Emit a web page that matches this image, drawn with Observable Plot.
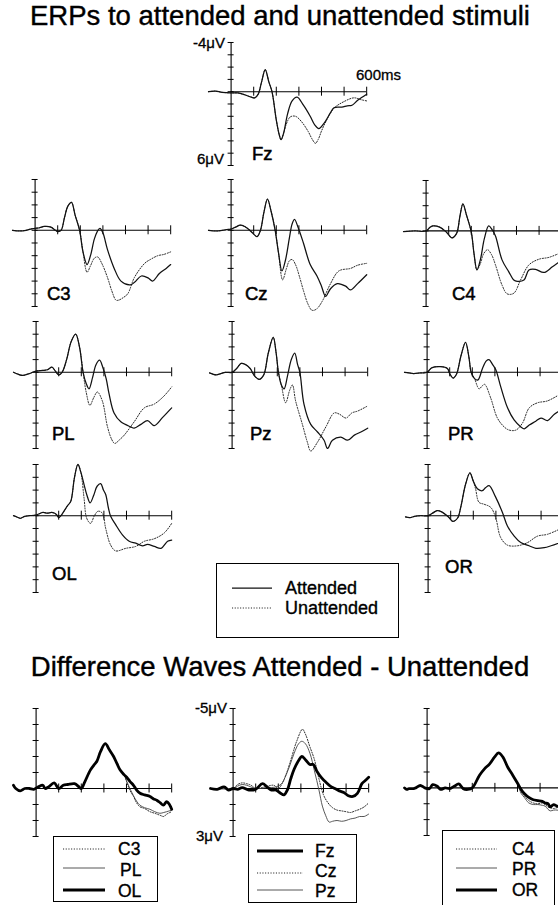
<!DOCTYPE html>
<html><head><meta charset="utf-8">
<script src="https://cdn.jsdelivr.net/npm/d3@7"></script>
<script src="https://cdn.jsdelivr.net/npm/@observablehq/plot@0.6"></script>
<style>
body{margin:0;background:#fff;}
#root{position:relative;width:558px;height:905px;overflow:hidden;background:#fff;}
.pnl{position:absolute;}
</style></head><body><div id="root"></div>
<script>
// ---------- ticks ----------
const timeTicks = [100, 200, 300, 400, 500, 600];
const erpTicks = [-4, -3, -2, -1, 0, 1, 2, 3, 4, 5, 6];
const diffTicks = [-5, -4, -3, -2, -1, 0, 1, 2, 3];

// ---------- ERP data [ms, μV] (negative up) ----------
const fzEarly = [[-100,0],[-70,-0.05],[-40,0.05],[0,0.1],[30,0.1],[60,0.25],[90,0.45],[105,0.5],[120,0.2],[135,-0.8],[151,-1.8],[167,-0.8],[181,0],[200,2.3],[213,3.5],[221,3.9],[232,3.4]];
const fzAtt = [[250,1.8],[270,0.75],[292,0.45],[320,1.1],[350,2.0],[370,2.7],[388,3.0],[410,2.6],[440,1.7],[455,1.3],[490,1.25],[514,1.15],[535,1.1],[560,0.7],[600,0.2]];
const fzUna = [[245,2.6],[262,2.05],[285,2.0],[310,2.4],[340,3.2],[360,3.9],[373,4.2],[385,3.9],[400,3.2],[420,2.4],[455,1.35],[500,0.8],[544,0.5],[575,0.65],[600,0.75]];

const c3Early = [[-100,0],[-70,0.05],[-40,0],[-20,-0.1],[0,-0.15],[20,-0.2],[40,-0.3],[70,-0.25],[90,0],[100,0.1],[115,0],[130,-1.0],[145,-1.9],[161,-2.2],[177,-1.2],[197,0],[212,1.7]];
const c3Att = [[230,2.7],[245,2.0],[262,0.7],[275,0.1],[287,-0.15],[300,0.2],[320,1.5],[350,3.0],[380,4.0],[420,4.3],[440,4.1],[470,3.6],[500,3.75],[520,4.0],[550,3.4],[580,3.0],[600,2.7]];
const c3Una = [[230,3.3],[245,2.8],[262,2.2],[277,2.1],[295,2.6],[320,3.7],[340,4.8],[358,5.5],[370,5.5],[390,5.3],[410,5.0],[440,3.7],[485,2.6],[510,2.3],[543,2.0],[570,1.9],[600,1.7]];

const czEarly = [[-100,0],[-60,0.05],[-20,-0.05],[0,-0.1],[20,-0.25],[40,-0.4],[60,-0.3],[80,-0.05],[100,0.3],[115,0.5],[130,0],[145,-1.4],[161,-2.45],[177,-1.5],[195,0],[210,1.8]];
const czAtt = [[225,3.2],[240,2.4],[258,0.6],[270,-0.5],[281,-0.85],[295,-0.3],[320,1.0],[350,2.7],[380,3.6],[400,4.4],[418,5.2],[440,4.6],[470,4.2],[507,4.4],[528,4.7],[560,4.2],[600,3.5]];
const czUna = [[228,3.9],[245,3.0],[258,2.4],[270,2.3],[285,2.7],[305,3.8],[321,4.8],[340,5.8],[358,6.3],[378,6.2],[403,5.6],[440,4.2],[477,3.2],[529,3.0],[560,2.75],[600,2.6]];

const c4Early = [[-100,0.05],[-50,0],[0,0],[15,-0.25],[30,-0.4],[60,-0.3],[90,0.1],[115,0.55],[135,0.2],[150,-1.2],[163,-2.15],[178,-1.3],[200,0.1],[212,1.8],[225,3.1]];
const c4Att = [[240,2.3],[258,0.6],[277,-0.4],[292,-0.1],[307,0.4],[336,2.3],[366,3.25],[388,3.9],[403,4.0],[433,3.9],[455,3.1],[484,3.05],[521,3.3],[559,2.85],[600,2.3]];
const c4Una = [[240,2.6],[255,1.8],[272,1.5],[290,1.9],[307,2.7],[336,4.3],[359,5.0],[388,4.95],[418,3.9],[455,2.7],[499,2.25],[544,2.1],[600,1.7]];

const plEarly = [[-100,0],[-80,0.15],[-60,0.25],[-30,0.1],[0,-0.1],[30,-0.15],[50,-0.2],[70,-0.4],[85,-0.1],[100,0.2],[115,0],[135,-1.0],[155,-2.4],[175,-3.0],[192,-2.0],[208,0]];
const plAtt = [[222,0.9],[234,1.3],[250,0.4],[265,-0.6],[281,-0.95],[295,-0.4],[310,0.5],[323,1.7],[345,3.2],[375,3.9],[419,4.3],[434,4.4],[464,4.1],[493,3.8],[523,4.2],[560,3.55],[600,2.8]];
const plUna = [[222,1.6],[238,2.6],[255,2.0],[271,1.55],[293,2.25],[316,4.3],[335,5.3],[348,5.6],[370,5.3],[390,4.95],[434,3.9],[479,2.8],[523,2.5],[567,1.85],[600,1.15]];

const pzEarly = [[-100,0.05],[-85,0.15],[-70,0.2],[-50,0.1],[-30,0],[0,0],[20,-0.3],[40,-0.7],[60,-0.6],[80,-0.3],[100,0.3],[120,0.55],[140,0.2],[160,-1.5],[182,-2.75],[195,-1.5],[205,0],[218,1.0]];
const pzAtt = [[230,1.3],[245,0.3],[262,-1.0],[277,-1.5],[290,-0.6],[300,0],[318,2.5],[348,4.1],[378,4.7],[407,5.35],[422,6.0],[444,5.35],[481,5.1],[511,5.35],[541,4.95],[570,4.7],[600,4.4]];
const pzUna = [[237,2.4],[255,1.4],[267,1.0],[281,2.25],[311,4.1],[333,5.5],[348,6.2],[378,5.5],[415,4.3],[452,3.2],[475,3.3],[504,3.6],[530,3.2],[556,3.05],[600,2.65]];

const prEarly = [[-100,0],[-80,0.05],[-60,0.1],[-30,0.05],[0,0],[20,-0.35],[60,-0.45],[90,-0.3],[100,0.1],[115,0.45],[130,0.15],[150,-1.3],[170,-2.35],[185,-1.2],[195,0],[210,0.5]];
const prAtt = [[225,0.6],[245,-0.3],[262,-0.9],[274,-1.0],[290,-0.6],[304,-0.2],[326,1.15],[356,2.8],[385,3.75],[415,4.3],[430,4.45],[452,4.15],[481,3.85],[504,3.6],[533,3.8],[563,3.3],[600,2.9]];
const prUna = [[230,1.3],[245,1.05],[255,0.95],[281,2.0],[311,3.6],[341,4.3],[363,4.55],[393,4.55],[422,4.0],[452,2.8],[489,2.4],[533,2.25],[600,1.6]];

const olEarly = [[-100,0],[-85,0.1],[-70,0.2],[-50,0.05],[-30,0],[0,-0.05],[30,-0.25],[50,-0.2],[70,-0.25],[90,-0.1],[100,0.15],[110,0],[125,-0.4],[140,-0.8],[153,-1.1],[170,-3.0],[185,-4.0],[198,-3.4]];
const olAtt = [[212,-2.45],[225,-1.6],[239,-1.0],[255,-1.6],[270,-2.3],[286,-2.5],[298,-2.0],[308,-1.65],[320,-0.6],[330,0.05],[352,0.7],[382,1.5],[412,2.0],[441,2.15],[471,2.35],[493,2.25],[523,2.4],[553,2.55],[582,2.0],[600,1.9]];
const olUna = [[212,-1.4],[224,0.2],[241,0.6],[258,0],[274,-0.35],[293,-0.2],[308,1.0],[330,2.3],[352,2.75],[397,2.55],[441,2.4],[479,2.0],[523,1.8],[567,1.35],[600,0.6]];

const orEarly = [[-100,0.1],[-80,0.15],[-60,0.05],[-30,0],[0,0],[20,-0.2],[40,-0.4],[60,-0.3],[90,0.1],[110,0.45],[130,0.2],[145,-0.7],[165,-2.4],[185,-3.35],[200,-2.7]];
const orAtt = [[218,-2.1],[240,-1.95],[255,-2.2],[270,-2.35],[299,-1.45],[329,-0.25],[351,0.8],[381,1.6],[410,2.1],[447,2.35],[477,2.55],[514,2.5],[544,2.35],[600,2.0]];
const orUna = [[210,-2.1],[225,-1.05],[247,-0.9],[277,-0.65],[299,0.15],[321,1.7],[351,2.3],[396,2.35],[440,2.1],[484,1.6],[529,1.45],[600,0.9]];

// ---------- Difference waves [ms, μV] ----------
const dLeftEarly = [[-100,-0.2],[-90,0],[-70,0.15],[-50,0],[-30,0],[-10,0.05],[10,-0.1],[30,-0.2],[40,0],[55,-0.1],[80,-0.35],[100,0],[120,-0.2],[140,-0.25],[170,-0.3],[190,-0.1],[200,0],[215,-0.4],[240,-1.15],[255,-1.45],[269,-1.7],[285,-2.3],[306,-2.8],[325,-2.4],[343,-2.0],[358,-1.55],[372,-1.15],[390,-0.85]];
const dC3 = [[401,-0.4],[415,0.1],[431,0.5],[445,0.9],[460,1.15],[480,1.25],[504,1.45],[525,1.55],[548,1.67],[565,1.75],[578,1.6],[600,1.45]];
const dPL = [[401,-0.45],[415,0.0],[431,0.45],[445,0.8],[460,1.05],[480,1.2],[504,1.3],[525,1.45],[548,1.55],[565,1.5],[578,1.45],[600,1.35]];
const dOL = [[401,-0.7],[415,-0.45],[431,-0.2],[445,0.1],[460,0.3],[480,0.4],[504,0.5],[520,0.65],[534,0.73],[550,0.9],[563,1.04],[578,0.83],[590,1.0],[600,1.3]];

const dFz = [[-100,0],[-70,0.05],[-40,-0.1],[-20,0.1],[0,0],[20,0.05],[40,-0.05],[70,0.1],[100,0.05],[130,-0.3],[150,-0.1],[170,0.1],[190,0.1],[210,0.3],[225,0.4],[240,0.1],[255,-0.6],[270,-1.2],[290,-1.75],[304,-2.0],[320,-1.8],[340,-1.5],[355,-1.5],[370,-1.1],[390,-0.7],[410,-0.4],[430,-0.15],[450,0],[470,0.15],[490,0.25],[510,0.45],[530,0.5],[550,0.3],[570,-0.3],[585,-0.5],[600,-0.7]];
const dCz = [[-100,0],[-50,0],[0,0],[20,-0.25],[40,-0.35],[60,-0.3],[80,-0.2],[100,0],[140,-0.1],[180,-0.2],[200,0],[220,-0.4],[240,-1.1],[260,-2.0],[280,-2.9],[307,-3.7],[320,-3.4],[340,-2.6],[360,-1.8],[380,-0.6],[400,0.4],[420,0.9],[440,1.2],[460,1.35],[480,1.4],[500,1.45],[520,1.5],[540,1.4],[560,1.3],[580,1.15],[600,0.9]];
const dPz = [[-100,0],[0,0],[20,-0.15],[40,-0.25],[60,-0.2],[100,0],[150,-0.05],[190,-0.1],[215,-0.3],[230,-0.7],[250,-1.4],[270,-2.2],[290,-2.8],[304,-2.95],[320,-2.8],[340,-2.2],[360,-1.1],[380,0.1],[395,1.1],[410,1.7],[425,2.1],[440,2.05],[460,2.0],[480,2.05],[500,2.0],[520,1.9],[540,1.85],[560,1.75],[580,1.75],[600,1.6]];

const dRightEarly = [[-100,0],[-90,0.1],[-80,0.05],[-60,0.05],[-50,0],[-30,-0.15],[-10,0],[10,0.05],[25,-0.2],[45,-0.1],[60,0.1],[80,0],[100,0.05],[120,-0.1],[140,-0.25],[160,0.05],[180,0.1],[200,0],[232,-0.8],[254,-1.2],[276,-1.5],[299,-1.95],[316,-2.2],[335,-1.95],[357,-1.3],[379,-0.8],[401,-0.27]];
const dC4 = [[416,0.25],[430,0.5],[450,0.8],[470,0.95],[490,1.0],[510,0.95],[522,1.05],[535,1.2],[545,1.25],[560,1.3],[575,1.25],[590,1.3]];
const dPR = [[416,0.35],[430,0.6],[450,0.95],[470,1.05],[490,1.05],[510,1.1],[522,1.15],[535,1.35],[545,1.45],[560,1.4],[575,1.4],[590,1.45]];
const dOR = [[416,0.1],[430,0.35],[450,0.6],[470,0.75],[490,0.8],[510,0.85],[522,0.95],[535,1.0],[545,1.2],[560,1.05],[575,1.15],[590,1.2]];

// ---------- drawing ----------
const FONT = "'Liberation Sans', Arial, Helvetica, sans-serif";
const MS = 0.226;   // px per ms
const M = 10;       // svg margin
const root = document.getElementById("root");
const rows = pairs => pairs.map(([t, v]) => ({t, v}));

const SOLID = {stroke: "#111", strokeWidth: 1.25};
const DOT = {stroke: "#222", strokeWidth: 1, strokeDasharray: "1.1,1.6"};
const THIN = {stroke: "#444", strokeWidth: 0.9};
const THICK = {stroke: "#000", strokeWidth: 2.8};

function panel({ax, top, bottom, domain, ticks, lines}) {
  const w = 700 * MS + 2 * M;
  const h = bottom - top + 2 * M;
  const marks = [
    Plot.ruleX([0], {x: d => d, y1: () => domain[0], y2: () => domain[1], stroke: "#000", strokeWidth: 1.1}),
    Plot.ruleY(ticks, {y: d => d, x1: () => 0, x2: () => 0, insetLeft: -3, insetRight: -3, stroke: "#000", strokeWidth: 1}),
    Plot.ruleY([0], {y: d => d, x1: () => 0, x2: () => 600, stroke: "#000", strokeWidth: 1.1}),
    Plot.ruleX(timeTicks, {x: d => d, y1: () => 0, y2: () => 0, insetTop: -4.5, insetBottom: -4.5, stroke: "#000", strokeWidth: 1}),
    ...lines.map(l => Plot.line(rows(l.data), {x: "t", y: "v", curve: "catmull-rom", ...l.style}))
  ];
  const svg = Plot.plot({
    width: w, height: h,
    marginLeft: M, marginRight: M, marginTop: M, marginBottom: M,
    x: {domain: [-100, 600], axis: null},
    y: {domain, reverse: true, axis: null},
    style: "background:transparent;overflow:visible;max-width:none;",
    marks
  });
  const div = document.createElement("div");
  div.className = "pnl";
  div.style.left = (ax - 100 * MS - M) + "px";
  div.style.top = (top - M) + "px";
  div.style.width = w + "px";
  div.appendChild(svg);
  root.appendChild(div);
}

const erp = (early, att, una) => [
  {data: early.concat(una), style: DOT},
  {data: early.concat(att), style: SOLID}
];
const E = [-4, 6];
panel({ax: 231, top: 42, bottom: 165, domain: E, ticks: erpTicks, lines: erp(fzEarly, fzAtt, fzUna)});
panel({ax: 34.5, top: 179, bottom: 306, domain: E, ticks: erpTicks, lines: erp(c3Early, c3Att, c3Una)});
panel({ax: 231, top: 179, bottom: 306, domain: E, ticks: erpTicks, lines: erp(czEarly, czAtt, czUna)});
panel({ax: 426, top: 180, bottom: 306, domain: E, ticks: erpTicks, lines: erp(c4Early, c4Att, c4Una)});
panel({ax: 36, top: 321, bottom: 448, domain: E, ticks: erpTicks, lines: erp(plEarly, plAtt, plUna)});
panel({ax: 232, top: 321, bottom: 448, domain: E, ticks: erpTicks, lines: erp(pzEarly, pzAtt, pzUna)});
panel({ax: 427, top: 321, bottom: 448, domain: E, ticks: erpTicks, lines: erp(prEarly, prAtt, prUna)});
panel({ax: 36, top: 464, bottom: 592, domain: E, ticks: erpTicks, lines: erp(olEarly, olAtt, olUna)});
panel({ax: 428, top: 464, bottom: 592, domain: E, ticks: erpTicks, lines: erp(orEarly, orAtt, orUna)});

const D = [-5, 3];
panel({ax: 36, top: 708, bottom: 836, domain: D, ticks: diffTicks, lines: [
  {data: dLeftEarly.concat(dC3), style: DOT},
  {data: dLeftEarly.concat(dPL), style: THIN},
  {data: dLeftEarly.concat(dOL), style: THICK}
]});
panel({ax: 233, top: 708, bottom: 836, domain: D, ticks: diffTicks, lines: [
  {data: dCz, style: DOT},
  {data: dPz, style: THIN},
  {data: dFz, style: THICK}
]});
panel({ax: 427, top: 708, bottom: 835, domain: D, ticks: diffTicks, lines: [
  {data: dRightEarly.concat(dC4), style: DOT},
  {data: dRightEarly.concat(dPR), style: THIN},
  {data: dRightEarly.concat(dOR), style: THICK}
]});

// ---------- overlay: titles, labels, legends ----------
const ov = d3.select(root).append("svg")
  .attr("width", 558).attr("height", 905)
  .style("position", "absolute").style("left", 0).style("top", 0)
  .attr("font-family", FONT);

function txt(x, y, s, size, anchor = "start", heavy = 0.35) {
  ov.append("text").attr("x", x).attr("y", y).attr("font-size", size)
    .attr("text-anchor", anchor).attr("fill", "#000")
    .attr("stroke", "#000").attr("stroke-width", heavy)
    .text(s);
}
txt(280, 25, "ERPs to attended and unattended stimuli", 27.5, "middle", 0.4);
txt(280, 676, "Difference Waves Attended - Unattended", 27.5, "middle", 0.4);

txt(225, 48, "-4μV", 15, "end", 0.3);
txt(224, 164, "6μV", 15, "end", 0.3);
txt(356, 80, "600ms", 15, "start", 0.3);
txt(227, 713, "-5μV", 15, "end", 0.3);
txt(223, 841, "3μV", 15, "end", 0.3);

const chanLabels = [
  ["Fz", 252, 160], ["C3", 47, 300], ["Cz", 245, 300], ["C4", 452, 300],
  ["PL", 52, 440], ["Pz", 250, 440], ["PR", 448, 440], ["OL", 52, 580], ["OR", 445, 573]
];
chanLabels.forEach(([s, x, y]) => txt(x, y, s, 18.5, "start", 0.5));

function legend(box, entries, size) {
  ov.append("rect").attr("x", box[0] + 0.5).attr("y", box[1] + 0.5)
    .attr("width", box[2]).attr("height", box[3])
    .attr("fill", "none").attr("stroke", "#000").attr("stroke-width", 1);
  entries.forEach(e => {
    ov.append("line").attr("x1", e.x1).attr("x2", e.x2).attr("y1", e.ly).attr("y2", e.ly)
      .attr("stroke", e.style.stroke).attr("stroke-width", e.style.strokeWidth)
      .attr("stroke-dasharray", e.style.strokeDasharray || null);
    txt(e.tx, e.ty, e.label, size, "start", 0.35);
  });
}
legend([216, 563, 182, 74], [
  {label: "Attended", style: SOLID, x1: 232, x2: 272, ly: 588, tx: 285, ty: 594},
  {label: "Unattended", style: DOT, x1: 232, x2: 272, ly: 608, tx: 285, ty: 614}
], 18);
legend([53, 836, 104, 65], [
  {label: "C3", style: DOT, x1: 63, x2: 105, ly: 849, tx: 118, ty: 855},
  {label: "PL", style: THIN, x1: 63, x2: 105, ly: 868, tx: 120, ty: 876},
  {label: "OL", style: THICK, x1: 63, x2: 105, ly: 890, tx: 118, ty: 897}
], 17.5);
legend([248, 834, 108, 68], [
  {label: "Fz", style: THICK, x1: 257, x2: 303, ly: 851, tx: 315, ty: 857},
  {label: "Cz", style: DOT, x1: 257, x2: 303, ly: 873, tx: 315, ty: 877},
  {label: "Pz", style: THIN, x1: 257, x2: 303, ly: 890, tx: 315, ty: 897}
], 17.5);
legend([442, 830, 112, 80], [
  {label: "C4", style: DOT, x1: 456, x2: 497, ly: 849, tx: 512, ty: 855},
  {label: "PR", style: THIN, x1: 456, x2: 497, ly: 868, tx: 512, ty: 875},
  {label: "OR", style: THICK, x1: 456, x2: 497, ly: 890, tx: 512, ty: 896}
], 17.5);
</script></body></html>
